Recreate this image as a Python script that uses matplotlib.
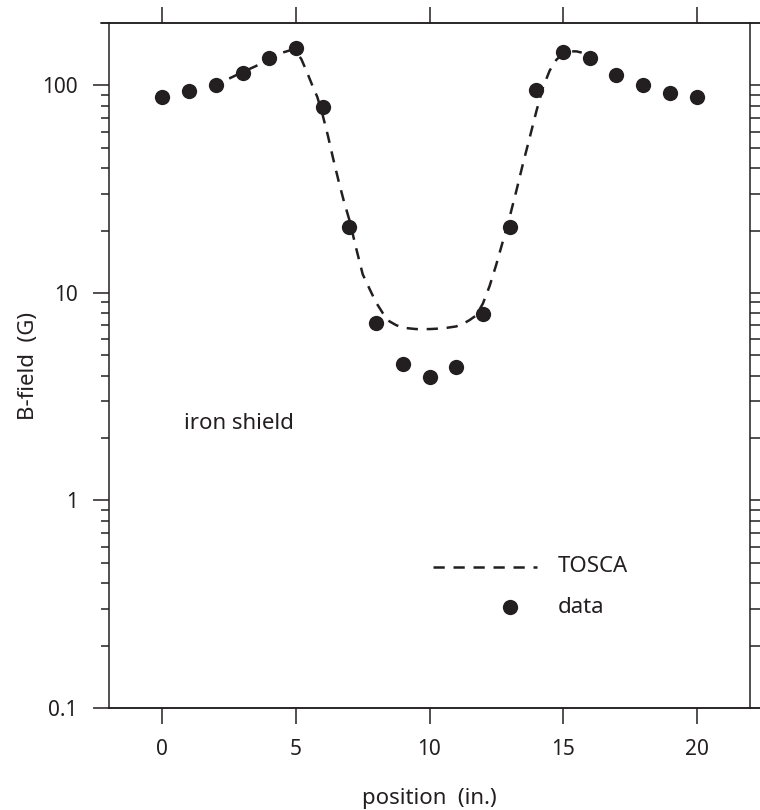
import numpy as np
import matplotlib
matplotlib.use("Agg")
from matplotlib import pyplot as plt

# measured points (position in inches, field in gauss)
position = [0, 1, 2, 3, 4, 5, 6, 7, 8, 9, 10, 11, 12, 13, 14, 15, 16, 17, 18, 19, 20]
bfield = [88, 94, 101, 114.6, 136, 152, 79, 20.8, 7.13, 4.54, 3.92, 4.40, 7.96,
          20.8, 94.6, 144.6, 136, 111.7, 100, 91.8, 87.9]

# TOSCA simulation curve
tosca_x = [2.5, 3.0, 3.5, 4.0, 4.5, 4.8, 5.0, 5.2, 5.4, 5.6, 5.8, 6.0, 6.2, 6.4, 6.6,
           6.8, 7.0, 7.25, 7.5, 7.75, 8.0, 8.25, 8.5, 8.75, 9.0, 9.5, 10.0, 10.5,
           11.0, 11.25, 11.5, 11.75, 12.0, 12.25, 12.5, 12.75, 13.0, 13.25, 13.5,
           13.75, 14.0, 14.25, 14.5, 14.75, 15.0, 15.25, 15.5, 15.7]
tosca_y = [108, 116, 124, 134, 144, 148, 146, 134, 117, 101, 88, 72, 57, 44, 34.5,
           27.5, 22.5, 16.5, 12.3, 10.5, 9.0, 8.0, 7.3, 7.0, 6.8, 6.7, 6.7, 6.75,
           6.9, 7.1, 7.4, 7.8, 8.9, 10.8, 13.7, 17.8, 23.2, 31, 42, 56, 75, 98, 118,
           133, 142, 146, 146, 144]

ink = '#231f20'
plt.rcParams['font.family'] = ['Noto Sans', 'DejaVu Sans']
plt.rcParams['font.size'] = 16

fig = plt.figure(figsize=(7.6, 8.1), dpi=100)
ax = fig.add_axes([109/760, 102/810, 641/760, 685/810])

ax.plot(tosca_x, tosca_y, color=ink, lw=1.8, dashes=(4.5, 3.5))
ax.plot(position, bfield, 'o', color=ink, ms=11, mec='none')

ax.set_yscale('log')
ax.set_ylim(0.1, 200)
ax.set_xlim(-2, 22)
ax.set_xticks([0, 5, 10, 15, 20])
ax.set_yticks([0.1, 1, 10, 100])
ax.set_yticklabels(['0.1', '1', '10', '100'])
ax.yaxis.set_minor_locator(matplotlib.ticker.LogLocator(subs=np.arange(2, 10)))
ax.yaxis.set_minor_formatter(matplotlib.ticker.NullFormatter())

for s in ax.spines.values():
    s.set_linewidth(1.1)
    s.set_color(ink)
ax.tick_params(axis='both', which='major', direction='out', length=11.5, width=1.1,
               color=ink, labelcolor=ink, labelsize=15, pad=11)
ax.tick_params(axis='y', which='minor', direction='out', length=6, width=1.1, color=ink)
ax.tick_params(axis='x', which='both', top=True, labeltop=False)

ax2 = ax.twinx()
ax2.set_yscale('log')
ax2.set_ylim(ax.get_ylim())
ax2.yaxis.set_minor_locator(matplotlib.ticker.LogLocator(subs=np.arange(2, 10)))
ax2.tick_params(which='both', direction='out', length=12, width=1.1, color=ink,
                labelright=False)
for s in ax2.spines.values():
    s.set_visible(False)

# frame lines run past the box on the right
ax.plot([-0.0125, 1.02], [1, 1], transform=ax.transAxes, color=ink, lw=1.1, clip_on=False)
ax.plot([0, 1.02], [0, 0], transform=ax.transAxes, color=ink, lw=1.1, clip_on=False)

ax.set_xlabel('position  (in.)', color=ink, labelpad=20)
ax.set_ylabel('B-field  (G)', color=ink, labelpad=2)

ax.text(0.82, 2.36, 'iron shield', color=ink, va='center', ha='left')

# legend drawn by hand
ax.plot([0.505, 0.668], [0.206, 0.206], transform=ax.transAxes, color=ink, lw=1.8,
        dashes=(4.5, 3.5))
ax.text(0.700, 0.206, 'TOSCA', transform=ax.transAxes, va='center', color=ink)
ax.plot([0.626], [0.147], 'o', transform=ax.transAxes, color=ink, ms=11, mec='none')
ax.text(0.700, 0.147, 'data', transform=ax.transAxes, va='center', color=ink)

fig.savefig('out.png', dpi=100)
